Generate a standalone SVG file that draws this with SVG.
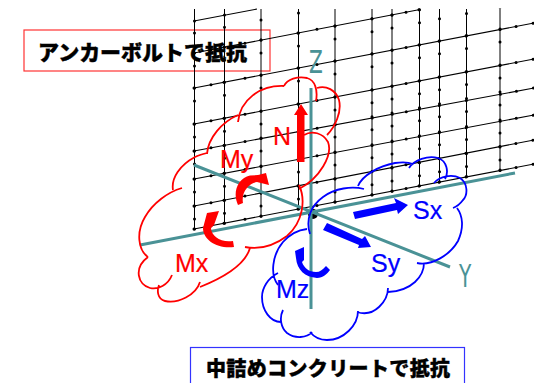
<svg xmlns="http://www.w3.org/2000/svg" width="534" height="383" viewBox="0 0 534 383">
<defs><clipPath id="gc"><rect x="190" y="8" width="344" height="230"/></clipPath></defs>
<style>
.v{stroke:#000;stroke-width:1;fill:none}
.h{stroke:#000;stroke-width:1.100;fill:none}
.dv{stroke:#000;stroke-width:3;stroke-linecap:round;stroke-dasharray:0 20 0 13 0 22 0 13 0 23 0 13 0 14 0 13 0 15 0 13 0 14 0 13 0 10 0 99;fill:none}
.dh{stroke:#000;stroke-width:3;stroke-linecap:round;stroke-dasharray:0 17.300 0 13.200 0 21.400 0 16.300 0 37.700 0 19.300 0 18.300 0 37.700 0 20.400 0 14.300 0 13.200 0 20.400 0 27.500 0 34.600 0 16.300 0 17.300 0 99;fill:none}
.ax{stroke:#4a9296;stroke-width:3;fill:none}
.rc{stroke:#f00;stroke-width:1.800;fill:none}
.bc{stroke:#00f;stroke-width:1.800;fill:none}
.rt{font-family:"Liberation Sans",Arial,sans-serif;fill:#f00;stroke:#f00;stroke-width:.2;font-size:25px}
.bt{font-family:"Liberation Sans",Arial,sans-serif;fill:#00f;stroke:#00f;stroke-width:.2;font-size:25px}
.at{font-family:"DejaVu Sans",sans-serif;fill:#4a9296}
.jp{font-family:"Noto Sans CJK JP",sans-serif;font-weight:900;fill:#000;stroke:#000;stroke-width:.4}
</style>
<g id="box-anchor"><rect x="24" y="30" width="246" height="41" fill="#fff" stroke="#f33" stroke-width="1.200"/><text class="jp" x="38" y="60" font-size="21" textLength="209">アンカーボルトで抵抗</text></g>
<g id="grid" clip-path="url(#gc)">
<path class="v" d="M194.500 9V229M224.500 9V223M261 9V216M298.500 9V209M335 9V202M372 9V195M392 9V191M419.500 9V186M439.500 9V182M466.500 9V177M500 9V170"/>
<path class="h" d="M194 21L257 9M194 53L420 9.500M194 88L534 23M194 124L534 59M194 151L534 88M194 179L534 115M194 206L534 140M194 229L534 164"/>
<path class="dv" d="M194.500 33V229.500M224.500 27.200V223.700M261 20.100V216.600M298.500 13V209.500M335 5.900V202.400M372 -1.300V195.200M392 -5.100V191.400M419.500 -10.300V186.200M439.500 -14.200V182.300M466.500 -19.400V177.100M500 -25.900V170.600"/>
<path d="M194.500 21h0M224.500 15h0" style="stroke:#000;stroke-width:3;stroke-linecap:round"/>
<path class="dh" d="M194 53L420 9.500M194 88L534 23M194 124L534 59M194 151L534 88M194 179L534 115M194 206L534 140M194 229L534 164"/>
</g>
<g id="connectors">
<circle cx="313" cy="214" r="5" fill="#000"/>
<path class="ax" d="M311 88V309M140 245L515 173M194 165L450 267"/>
<text class="at" transform="translate(309 73) scale(.72 1.150)" font-size="28">Z</text>
<text class="at" transform="translate(459 287) scale(.72 1.150)" font-size="28">Y</text>
</g>
<g id="cloud-red">
<path class="rc" d="M238 122C240 100 260 85 284 86M284 86C287 79 298 76 307 78C315 80 318 90 316 101M317 88C326 85 336 90 339 100C342 112 335 127 327 135M304 135C312 130 323 133 328 142C333 155 320 178 299 189M299 185C306 200 303 222 287 236C275 245 260 250 245 247M250 248C246 262 230 275 200 287M200 282C196 295 178 304 165 301C157 299 157 290 159 285M172 275C168 285 158 290 150 288C138 285 133 268 148 257M148 257C138 250 136 232 145 217C153 203 168 192 182 188M173 190C171 178 180 165 195 157C199 155 203 154 207 153M207 154C208 138 222 122 238 115"/>
</g>
<g id="cloud-blue">
<path class="bc" d="M310 234C305 218 312 205 323 197C335 188 352 186 364 189M358 186C362 176 378 166 395 163C402 162 408 162 413 164M409 168C414 160 428 155 438 158C447 161 449 172 445 179M434 183C440 176 452 174 460 178C468 183 468 195 463 200C460 204 456 207 453 208M457 208C463 216 464 228 458 241C450 255 432 266 417 263M424 263C424 276 412 291 388 292M388 288C388 300 375 318 357 312M358 311C358 325 344 340 327 340C320 340 314 337 310 332M312 332C307 338 295 339 287 333C281 328 279 318 283 310M281 322C270 322 262 310 262 297C262 288 268 278 278 273M278 285C270 275 272 255 283 242C290 234 298 230 307 229"/>
</g>
<g id="load-N"><polygon fill="#f00" points="301,104 308,115 304.500,115 304.500,162 297,162 297,115 294,115"/><text class="rt" x="273" y="145" font-size="26">N</text></g>
<g id="load-My"><path fill="#f00" d="M238 205C232 192 238 178 250 175.500L258 175L266 173L269 185L257 182C249 183 241 192 243 203Z"/><text class="rt" x="220" y="168">My</text></g>
<g id="load-Mx"><path fill="#f00" d="M219 211L207 213L203 228C203 240 217 249 234 247L233 241C221 243 211 236 211 228L214 225Z"/><text class="rt" x="175" y="272">Mx</text></g>
<g id="load-Sx"><polygon fill="#00f" points="353,212 396,203 394,198 408,205 398,214 397,210 355,219"/><text class="bt" x="413" y="219">Sx</text></g>
<g id="load-Sy"><polygon fill="#00f" points="327,223 362,239 365,236 371,247 358,248 359,245 323,230"/><text class="bt" x="371" y="272">Sy</text></g>
<g id="load-Mz"><path fill="#00f" d="M304 247L295 251L296 258C297 270 305 277 317 278C323 278 327 274 330 270L326 266C322 270 320 272 316 272C309 272 304 268 302 262L304 260Z"/><text class="bt" x="276" y="298">Mz</text></g>
<g id="box-grout"><rect x="190.500" y="347.500" width="274" height="50" fill="#fff" stroke="#33f" stroke-width="1.200"/><text class="jp" x="206" y="376" font-size="20" textLength="244">中詰めコンクリートで抵抗</text></g>
</svg>
